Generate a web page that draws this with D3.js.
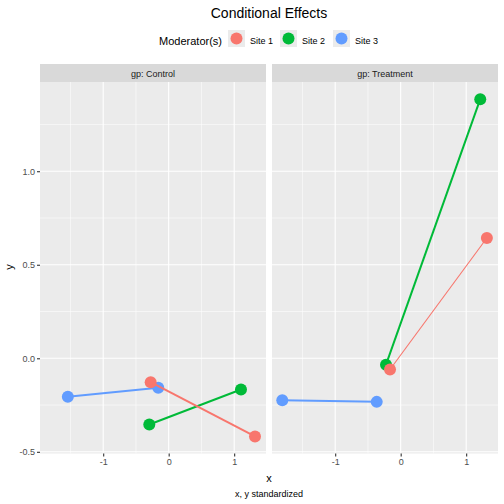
<!DOCTYPE html>
<html><head><meta charset="utf-8">
<script src="https://cdn.jsdelivr.net/npm/d3@7"></script>
<style>body{margin:0;background:#fff}svg{display:block}text{font-family:"Liberation Sans",Arial,sans-serif}</style>
</head><body><svg id="c" width="504" height="504"></svg>
<script>
const panels = ["Control", "Treatment"];
const sites = ["Site 1", "Site 2", "Site 3"];
const siteColors = ["#F8766D", "#00BA38", "#619CFF"];
// values per panel, per site: [x1, y1, x2, y2]
const controlSite1 = [-0.275, -0.128, 1.318, -0.418];
const controlSite2 = [-0.296, -0.354, 1.104, -0.167];
const controlSite3 = [-1.54, -0.206, -0.159, -0.158];
const treatmentSite1 = [-0.163, -0.060, 1.316, 0.643];
const treatmentSite2 = [-0.224, -0.034, 1.215, 1.385];
const treatmentSite3 = [-1.808, -0.224, -0.366, -0.233];
const lineWidths = {Control: [2, 2, 2], Treatment: [1.1, 2, 2]};
const xTicks = [-1, 0, 1];
const xTickLabels = ["-1", "0", "1"];
const yTicks = [-0.5, 0, 0.5, 1.0];
const yTickLabels = ["-0.5", "0.0", "0.5", "1.0"];

const data = {
  Control: [controlSite1, controlSite2, controlSite3],
  Treatment: [treatmentSite1, treatmentSite2, treatmentSite3]
};

const svg = d3.select("#c");
const panelW = 226, gap = 6, leftX = 40, topY = 82, bottomY = 453.5;
const x = d3.scaleLinear().domain([-1.965, 1.486]).range([0, panelW]);
const y = d3.scaleLinear().domain([-0.509, 1.477]).range([bottomY, topY]);

svg.append("text").attr("x", 269).attr("y", 18).attr("text-anchor", "middle")
  .attr("font-size", 14).attr("fill", "#000").text("Conditional Effects");

const lg = svg.append("g");
lg.append("text").attr("x", 222).attr("y", 45).attr("text-anchor", "end").attr("font-size", 11).text("Moderator(s)");
const keyX = [228, 280, 333];
sites.forEach((s, i) => {
  lg.append("rect").attr("x", keyX[i]).attr("y", 30).attr("width", 17).attr("height", 17).attr("fill", "#EBEBEB");
  lg.append("circle").attr("cx", keyX[i] + 8.5).attr("cy", 38.5).attr("r", 6).attr("fill", siteColors[i]);
  lg.append("text").attr("x", keyX[i] + 22).attr("y", 44).attr("font-size", 9).attr("fill", "#000").text(s);
});

panels.forEach((p, pi) => {
  const ox = leftX + pi * (panelW + gap);
  const g = svg.append("g").attr("transform", `translate(${ox},0)`);
  g.append("rect").attr("x", 0).attr("y", 64).attr("width", panelW).attr("height", 18).attr("fill", "#D9D9D9");
  g.append("text").attr("x", panelW / 2).attr("y", 76.5).attr("text-anchor", "middle")
    .attr("font-size", 9).attr("fill", "#1A1A1A").text("gp: " + p);
  g.append("rect").attr("x", 0).attr("y", topY).attr("width", panelW).attr("height", bottomY - topY).attr("fill", "#EBEBEB");
  const xMinor = [-1.5, -0.5, 0.5];
  const yMinor = [-0.25, 0.25, 0.75, 1.25];
  g.selectAll(".xm").data(xMinor).enter().append("line")
    .attr("x1", d => x(d)).attr("x2", d => x(d)).attr("y1", topY).attr("y2", bottomY)
    .attr("stroke", "#fff").attr("stroke-width", 0.55);
  g.selectAll(".ym").data(yMinor).enter().append("line")
    .attr("x1", 0).attr("x2", panelW).attr("y1", d => y(d)).attr("y2", d => y(d))
    .attr("stroke", "#fff").attr("stroke-width", 0.55);
  g.selectAll(".xM").data(xTicks).enter().append("line")
    .attr("x1", d => x(d)).attr("x2", d => x(d)).attr("y1", topY).attr("y2", bottomY)
    .attr("stroke", "#fff").attr("stroke-width", 1.1);
  g.selectAll(".yM").data(yTicks).enter().append("line")
    .attr("x1", 0).attr("x2", panelW).attr("y1", d => y(d)).attr("y2", d => y(d))
    .attr("stroke", "#fff").attr("stroke-width", 1.1);
  const xa = g.append("g").attr("transform", `translate(0,${bottomY})`)
    .call(d3.axisBottom(x).tickValues(xTicks).tickSize(3).tickPadding(2).tickFormat((d, i) => xTickLabels[i]));
  xa.select(".domain").remove();
  xa.selectAll("line").attr("stroke", "#333").attr("stroke-width", 1.1);
  xa.selectAll("text").attr("fill", "#4D4D4D").attr("font-size", 9).attr("font-family", "Liberation Sans, Arial, sans-serif");
  if (pi === 0) {
    const ya = g.append("g").call(d3.axisLeft(y).tickValues(yTicks).tickSize(3).tickPadding(2).tickFormat((d, i) => yTickLabels[i]));
    ya.select(".domain").remove();
    ya.selectAll("line").attr("stroke", "#333").attr("stroke-width", 1.1);
    ya.selectAll("text").attr("fill", "#4D4D4D").attr("font-size", 9).attr("font-family", "Liberation Sans, Arial, sans-serif");
  }
  [2, 1, 0].forEach(si => {
    const v = data[p][si];
    const pts = [[v[0], v[1]], [v[2], v[3]]];
    g.append("path").attr("d", d3.line().x(d => x(d[0])).y(d => y(d[1]))(pts))
      .attr("fill", "none").attr("stroke", siteColors[si]).attr("stroke-width", lineWidths[p][si]);
    g.selectAll(null).data(pts).enter().append("circle")
      .attr("cx", d => x(d[0])).attr("cy", d => y(d[1])).attr("r", 6).attr("fill", siteColors[si]);
  });
});

svg.append("text").attr("x", 269).attr("y", 482).attr("text-anchor", "middle").attr("font-size", 11).text("x");
svg.append("text").attr("transform", "translate(13,267) rotate(-90)").attr("text-anchor", "middle").attr("font-size", 11).text("y");
svg.append("text").attr("x", 269).attr("y", 497).attr("text-anchor", "middle").attr("font-size", 9).text("x, y standardized");
</script></body></html>
